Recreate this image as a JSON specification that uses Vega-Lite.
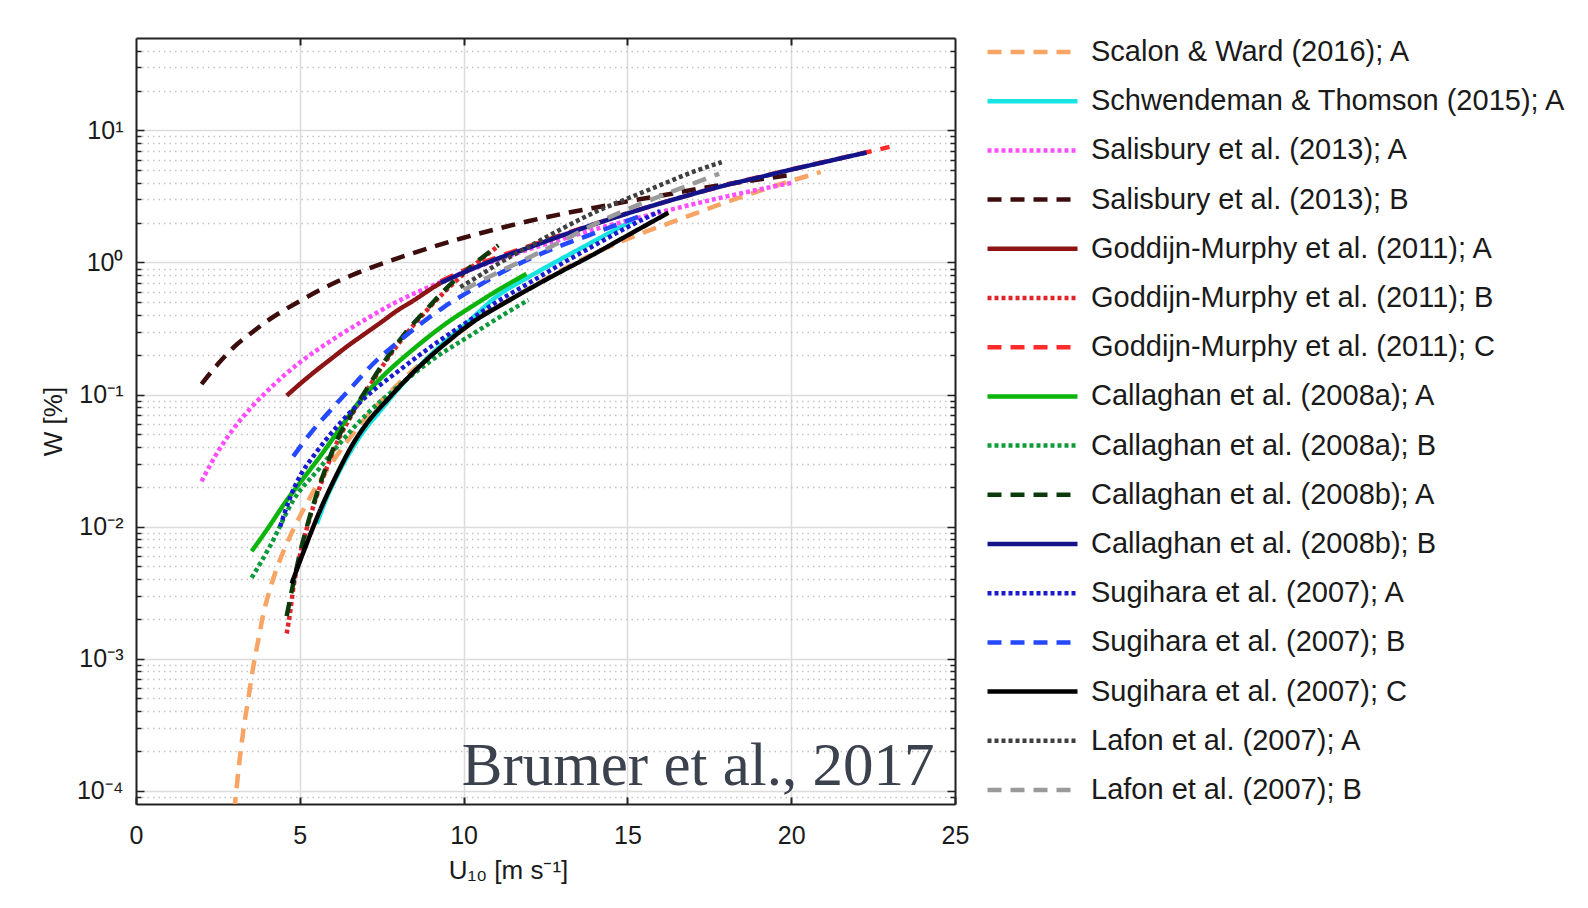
{
  "$schema": "https://vega.github.io/schema/vega-lite/v6.json",
  "autosize": {"type": "none"},
  "padding": {"left": 136, "top": 38, "right": 633, "bottom": 104},
  "width": 819,
  "height": 766,
  "background": "white",
  "config": {"view": {"stroke": null}, "font": "Liberation Sans"},
  "resolve": {"axis": {"x": "independent", "y": "independent"}},
  "layer": [
    {
      "data": {"values": [
        {"s":"Scalon & Ward (2016); A","u":3.0,"w":0.00007},
        {"s":"Scalon & Ward (2016); A","u":3.15,"w":0.00016},
        {"s":"Scalon & Ward (2016); A","u":3.28,"w":0.00029},
        {"s":"Scalon & Ward (2016); A","u":3.43,"w":0.0005},
        {"s":"Scalon & Ward (2016); A","u":3.58,"w":0.00087},
        {"s":"Scalon & Ward (2016); A","u":3.75,"w":0.00145},
        {"s":"Scalon & Ward (2016); A","u":3.89,"w":0.0022},
        {"s":"Scalon & Ward (2016); A","u":4.05,"w":0.0031},
        {"s":"Scalon & Ward (2016); A","u":4.24,"w":0.0044},
        {"s":"Scalon & Ward (2016); A","u":4.6,"w":0.0074},
        {"s":"Scalon & Ward (2016); A","u":5.1,"w":0.0133},
        {"s":"Scalon & Ward (2016); A","u":5.5,"w":0.02},
        {"s":"Scalon & Ward (2016); A","u":6,"w":0.031},
        {"s":"Scalon & Ward (2016); A","u":6.5,"w":0.046},
        {"s":"Scalon & Ward (2016); A","u":7,"w":0.066},
        {"s":"Scalon & Ward (2016); A","u":8,"w":0.12},
        {"s":"Scalon & Ward (2016); A","u":9,"w":0.2},
        {"s":"Scalon & Ward (2016); A","u":10,"w":0.31},
        {"s":"Scalon & Ward (2016); A","u":10.5,"w":0.39},
        {"s":"Scalon & Ward (2016); A","u":11.4,"w":0.52},
        {"s":"Scalon & Ward (2016); A","u":12.33,"w":0.71},
        {"s":"Scalon & Ward (2016); A","u":13.86,"w":1.13},
        {"s":"Scalon & Ward (2016); A","u":15.4,"w":1.65},
        {"s":"Scalon & Ward (2016); A","u":16.5,"w":2.08},
        {"s":"Scalon & Ward (2016); A","u":18,"w":2.85},
        {"s":"Scalon & Ward (2016); A","u":19.5,"w":3.8},
        {"s":"Scalon & Ward (2016); A","u":20.9,"w":4.84},

        {"s":"Schwendeman & Thomson (2015); A","u":5.52,"w":0.0105},
        {"s":"Schwendeman & Thomson (2015); A","u":5.8,"w":0.016},
        {"s":"Schwendeman & Thomson (2015); A","u":6.2,"w":0.026},
        {"s":"Schwendeman & Thomson (2015); A","u":6.6,"w":0.039},
        {"s":"Schwendeman & Thomson (2015); A","u":7,"w":0.055},
        {"s":"Schwendeman & Thomson (2015); A","u":7.45,"w":0.075},
        {"s":"Schwendeman & Thomson (2015); A","u":8,"w":0.11},
        {"s":"Schwendeman & Thomson (2015); A","u":8.5,"w":0.15},
        {"s":"Schwendeman & Thomson (2015); A","u":9,"w":0.2},
        {"s":"Schwendeman & Thomson (2015); A","u":9.5,"w":0.26},
        {"s":"Schwendeman & Thomson (2015); A","u":10,"w":0.33},
        {"s":"Schwendeman & Thomson (2015); A","u":11,"w":0.55},
        {"s":"Schwendeman & Thomson (2015); A","u":12,"w":0.78},
        {"s":"Schwendeman & Thomson (2015); A","u":13,"w":1.07},
        {"s":"Schwendeman & Thomson (2015); A","u":14.2,"w":1.55},
        {"s":"Schwendeman & Thomson (2015); A","u":15.2,"w":2.1},

        {"s":"Salisbury et al. (2013); A","u":2,"w":0.022},
        {"s":"Salisbury et al. (2013); A","u":2.5,"w":0.037},
        {"s":"Salisbury et al. (2013); A","u":3,"w":0.056},
        {"s":"Salisbury et al. (2013); A","u":3.5,"w":0.079},
        {"s":"Salisbury et al. (2013); A","u":4,"w":0.106},
        {"s":"Salisbury et al. (2013); A","u":5,"w":0.175},
        {"s":"Salisbury et al. (2013); A","u":6,"w":0.26},
        {"s":"Salisbury et al. (2013); A","u":7,"w":0.37},
        {"s":"Salisbury et al. (2013); A","u":8,"w":0.51},
        {"s":"Salisbury et al. (2013); A","u":9,"w":0.66},
        {"s":"Salisbury et al. (2013); A","u":10,"w":0.84},
        {"s":"Salisbury et al. (2013); A","u":11,"w":1.04},
        {"s":"Salisbury et al. (2013); A","u":12,"w":1.26},
        {"s":"Salisbury et al. (2013); A","u":13,"w":1.5},
        {"s":"Salisbury et al. (2013); A","u":14,"w":1.78},
        {"s":"Salisbury et al. (2013); A","u":15,"w":2.07},
        {"s":"Salisbury et al. (2013); A","u":16,"w":2.4},
        {"s":"Salisbury et al. (2013); A","u":17,"w":2.76},
        {"s":"Salisbury et al. (2013); A","u":18,"w":3.15},
        {"s":"Salisbury et al. (2013); A","u":19,"w":3.56},
        {"s":"Salisbury et al. (2013); A","u":20,"w":4.0},

        {"s":"Salisbury et al. (2013); B","u":2,"w":0.12},
        {"s":"Salisbury et al. (2013); B","u":2.5,"w":0.17},
        {"s":"Salisbury et al. (2013); B","u":3,"w":0.23},
        {"s":"Salisbury et al. (2013); B","u":3.5,"w":0.29},
        {"s":"Salisbury et al. (2013); B","u":4,"w":0.36},
        {"s":"Salisbury et al. (2013); B","u":5,"w":0.51},
        {"s":"Salisbury et al. (2013); B","u":6,"w":0.69},
        {"s":"Salisbury et al. (2013); B","u":7,"w":0.88},
        {"s":"Salisbury et al. (2013); B","u":8,"w":1.08},
        {"s":"Salisbury et al. (2013); B","u":9,"w":1.3},
        {"s":"Salisbury et al. (2013); B","u":10,"w":1.54},
        {"s":"Salisbury et al. (2013); B","u":11,"w":1.79},
        {"s":"Salisbury et al. (2013); B","u":12,"w":2.06},
        {"s":"Salisbury et al. (2013); B","u":13,"w":2.33},
        {"s":"Salisbury et al. (2013); B","u":14,"w":2.6},
        {"s":"Salisbury et al. (2013); B","u":15,"w":2.9},
        {"s":"Salisbury et al. (2013); B","u":16,"w":3.2},
        {"s":"Salisbury et al. (2013); B","u":17,"w":3.55},
        {"s":"Salisbury et al. (2013); B","u":18,"w":3.9},
        {"s":"Salisbury et al. (2013); B","u":19,"w":4.25},
        {"s":"Salisbury et al. (2013); B","u":20,"w":4.6},

        {"s":"Goddijn-Murphy et al. (2011); A","u":4.6,"w":0.098},
        {"s":"Goddijn-Murphy et al. (2011); A","u":5,"w":0.12},
        {"s":"Goddijn-Murphy et al. (2011); A","u":5.5,"w":0.152},
        {"s":"Goddijn-Murphy et al. (2011); A","u":6,"w":0.19},
        {"s":"Goddijn-Murphy et al. (2011); A","u":6.43,"w":0.23},
        {"s":"Goddijn-Murphy et al. (2011); A","u":7,"w":0.29},
        {"s":"Goddijn-Murphy et al. (2011); A","u":7.5,"w":0.355},
        {"s":"Goddijn-Murphy et al. (2011); A","u":7.96,"w":0.43},
        {"s":"Goddijn-Murphy et al. (2011); A","u":8.5,"w":0.52},
        {"s":"Goddijn-Murphy et al. (2011); A","u":9,"w":0.63},
        {"s":"Goddijn-Murphy et al. (2011); A","u":9.3,"w":0.7},

        {"s":"Goddijn-Murphy et al. (2011); B","u":4.6,"w":0.00155},
        {"s":"Goddijn-Murphy et al. (2011); B","u":4.7,"w":0.0022},
        {"s":"Goddijn-Murphy et al. (2011); B","u":4.8,"w":0.0034},
        {"s":"Goddijn-Murphy et al. (2011); B","u":5,"w":0.006},
        {"s":"Goddijn-Murphy et al. (2011); B","u":5.3,"w":0.0115},
        {"s":"Goddijn-Murphy et al. (2011); B","u":5.7,"w":0.023},
        {"s":"Goddijn-Murphy et al. (2011); B","u":6.13,"w":0.043},
        {"s":"Goddijn-Murphy et al. (2011); B","u":6.6,"w":0.071},
        {"s":"Goddijn-Murphy et al. (2011); B","u":7.04,"w":0.107},
        {"s":"Goddijn-Murphy et al. (2011); B","u":7.6,"w":0.175},
        {"s":"Goddijn-Murphy et al. (2011); B","u":8.26,"w":0.29},
        {"s":"Goddijn-Murphy et al. (2011); B","u":8.9,"w":0.44},
        {"s":"Goddijn-Murphy et al. (2011); B","u":9.48,"w":0.62},
        {"s":"Goddijn-Murphy et al. (2011); B","u":10.2,"w":0.9},
        {"s":"Goddijn-Murphy et al. (2011); B","u":11,"w":1.3},

        {"s":"Goddijn-Murphy et al. (2011); C","u":9.3,"w":0.72},
        {"s":"Goddijn-Murphy et al. (2011); C","u":10,"w":0.87},
        {"s":"Goddijn-Murphy et al. (2011); C","u":11,"w":1.09},
        {"s":"Goddijn-Murphy et al. (2011); C","u":12,"w":1.33},
        {"s":"Goddijn-Murphy et al. (2011); C","u":13,"w":1.62},
        {"s":"Goddijn-Murphy et al. (2011); C","u":14,"w":1.96},
        {"s":"Goddijn-Murphy et al. (2011); C","u":15,"w":2.36},
        {"s":"Goddijn-Murphy et al. (2011); C","u":16,"w":2.8},
        {"s":"Goddijn-Murphy et al. (2011); C","u":17,"w":3.3},
        {"s":"Goddijn-Murphy et al. (2011); C","u":18,"w":3.85},
        {"s":"Goddijn-Murphy et al. (2011); C","u":19,"w":4.42},
        {"s":"Goddijn-Murphy et al. (2011); C","u":20,"w":5.06},
        {"s":"Goddijn-Murphy et al. (2011); C","u":21,"w":5.77},
        {"s":"Goddijn-Murphy et al. (2011); C","u":22,"w":6.56},
        {"s":"Goddijn-Murphy et al. (2011); C","u":23,"w":7.5},

        {"s":"Callaghan et al. (2008a); A","u":3.53,"w":0.0065},
        {"s":"Callaghan et al. (2008a); A","u":4,"w":0.0095},
        {"s":"Callaghan et al. (2008a); A","u":4.6,"w":0.0158},
        {"s":"Callaghan et al. (2008a); A","u":5.1,"w":0.023},
        {"s":"Callaghan et al. (2008a); A","u":5.62,"w":0.034},
        {"s":"Callaghan et al. (2008a); A","u":6.2,"w":0.054},
        {"s":"Callaghan et al. (2008a); A","u":6.84,"w":0.09},
        {"s":"Callaghan et al. (2008a); A","u":7.5,"w":0.135},
        {"s":"Callaghan et al. (2008a); A","u":8.46,"w":0.22},
        {"s":"Callaghan et al. (2008a); A","u":9.5,"w":0.35},
        {"s":"Callaghan et al. (2008a); A","u":10.4,"w":0.49},
        {"s":"Callaghan et al. (2008a); A","u":11.2,"w":0.65},
        {"s":"Callaghan et al. (2008a); A","u":11.92,"w":0.82},

        {"s":"Callaghan et al. (2008a); B","u":3.53,"w":0.0041},
        {"s":"Callaghan et al. (2008a); B","u":4.09,"w":0.0071},
        {"s":"Callaghan et al. (2008a); B","u":4.8,"w":0.0158},
        {"s":"Callaghan et al. (2008a); B","u":5.62,"w":0.028},
        {"s":"Callaghan et al. (2008a); B","u":6.3,"w":0.045},
        {"s":"Callaghan et al. (2008a); B","u":7.04,"w":0.071},
        {"s":"Callaghan et al. (2008a); B","u":7.96,"w":0.113},
        {"s":"Callaghan et al. (2008a); B","u":9,"w":0.18},
        {"s":"Callaghan et al. (2008a); B","u":10.4,"w":0.3},
        {"s":"Callaghan et al. (2008a); B","u":11.2,"w":0.4},
        {"s":"Callaghan et al. (2008a); B","u":11.98,"w":0.52},

        {"s":"Callaghan et al. (2008b); A","u":4.6,"w":0.0021},
        {"s":"Callaghan et al. (2008b); A","u":4.8,"w":0.0037},
        {"s":"Callaghan et al. (2008b); A","u":5,"w":0.0062},
        {"s":"Callaghan et al. (2008b); A","u":5.3,"w":0.0118},
        {"s":"Callaghan et al. (2008b); A","u":5.7,"w":0.024},
        {"s":"Callaghan et al. (2008b); A","u":6.13,"w":0.045},
        {"s":"Callaghan et al. (2008b); A","u":6.6,"w":0.073},
        {"s":"Callaghan et al. (2008b); A","u":7.04,"w":0.11},
        {"s":"Callaghan et al. (2008b); A","u":7.6,"w":0.18},
        {"s":"Callaghan et al. (2008b); A","u":8.26,"w":0.3},
        {"s":"Callaghan et al. (2008b); A","u":8.9,"w":0.45},
        {"s":"Callaghan et al. (2008b); A","u":9.48,"w":0.64},
        {"s":"Callaghan et al. (2008b); A","u":10.2,"w":0.92},
        {"s":"Callaghan et al. (2008b); A","u":11.06,"w":1.35},

        {"s":"Callaghan et al. (2008b); B","u":9.3,"w":0.7},
        {"s":"Callaghan et al. (2008b); B","u":10,"w":0.84},
        {"s":"Callaghan et al. (2008b); B","u":11,"w":1.06},
        {"s":"Callaghan et al. (2008b); B","u":12,"w":1.3},
        {"s":"Callaghan et al. (2008b); B","u":13,"w":1.6},
        {"s":"Callaghan et al. (2008b); B","u":14,"w":1.95},
        {"s":"Callaghan et al. (2008b); B","u":15,"w":2.35},
        {"s":"Callaghan et al. (2008b); B","u":16,"w":2.8},
        {"s":"Callaghan et al. (2008b); B","u":17,"w":3.3},
        {"s":"Callaghan et al. (2008b); B","u":18,"w":3.85},
        {"s":"Callaghan et al. (2008b); B","u":19,"w":4.4},
        {"s":"Callaghan et al. (2008b); B","u":20,"w":5.05},
        {"s":"Callaghan et al. (2008b); B","u":21,"w":5.75},
        {"s":"Callaghan et al. (2008b); B","u":22,"w":6.55},
        {"s":"Callaghan et al. (2008b); B","u":22.3,"w":6.8},

        {"s":"Sugihara et al. (2007); A","u":4.4,"w":0.01},
        {"s":"Sugihara et al. (2007); A","u":4.7,"w":0.0165},
        {"s":"Sugihara et al. (2007); A","u":5,"w":0.024},
        {"s":"Sugihara et al. (2007); A","u":5.41,"w":0.034},
        {"s":"Sugihara et al. (2007); A","u":6.13,"w":0.057},
        {"s":"Sugihara et al. (2007); A","u":7,"w":0.095},
        {"s":"Sugihara et al. (2007); A","u":8,"w":0.15},
        {"s":"Sugihara et al. (2007); A","u":9,"w":0.23},
        {"s":"Sugihara et al. (2007); A","u":10,"w":0.34},
        {"s":"Sugihara et al. (2007); A","u":11,"w":0.5},
        {"s":"Sugihara et al. (2007); A","u":12,"w":0.7},
        {"s":"Sugihara et al. (2007); A","u":13,"w":0.98},
        {"s":"Sugihara et al. (2007); A","u":14,"w":1.35},
        {"s":"Sugihara et al. (2007); A","u":15,"w":1.85},
        {"s":"Sugihara et al. (2007); A","u":16,"w":2.45},

        {"s":"Sugihara et al. (2007); B","u":4.8,"w":0.034},
        {"s":"Sugihara et al. (2007); B","u":5.3,"w":0.05},
        {"s":"Sugihara et al. (2007); B","u":6.02,"w":0.08},
        {"s":"Sugihara et al. (2007); B","u":6.6,"w":0.115},
        {"s":"Sugihara et al. (2007); B","u":7.24,"w":0.171},
        {"s":"Sugihara et al. (2007); B","u":8,"w":0.25},
        {"s":"Sugihara et al. (2007); B","u":8.67,"w":0.34},
        {"s":"Sugihara et al. (2007); B","u":9.4,"w":0.46},
        {"s":"Sugihara et al. (2007); B","u":10.2,"w":0.61},
        {"s":"Sugihara et al. (2007); B","u":11,"w":0.8},
        {"s":"Sugihara et al. (2007); B","u":11.92,"w":1.04},
        {"s":"Sugihara et al. (2007); B","u":12.9,"w":1.32},
        {"s":"Sugihara et al. (2007); B","u":13.86,"w":1.62},
        {"s":"Sugihara et al. (2007); B","u":14.6,"w":1.9},
        {"s":"Sugihara et al. (2007); B","u":15.5,"w":2.3},

        {"s":"Sugihara et al. (2007); C","u":4.75,"w":0.0037},
        {"s":"Sugihara et al. (2007); C","u":5.1,"w":0.0063},
        {"s":"Sugihara et al. (2007); C","u":5.62,"w":0.0133},
        {"s":"Sugihara et al. (2007); C","u":6.1,"w":0.024},
        {"s":"Sugihara et al. (2007); C","u":6.63,"w":0.0426},
        {"s":"Sugihara et al. (2007); C","u":7.1,"w":0.063},
        {"s":"Sugihara et al. (2007); C","u":7.65,"w":0.09},
        {"s":"Sugihara et al. (2007); C","u":8.5,"w":0.15},
        {"s":"Sugihara et al. (2007); C","u":9.5,"w":0.25},
        {"s":"Sugihara et al. (2007); C","u":10.4,"w":0.37},
        {"s":"Sugihara et al. (2007); C","u":11.1,"w":0.47},
        {"s":"Sugihara et al. (2007); C","u":12,"w":0.63},
        {"s":"Sugihara et al. (2007); C","u":13,"w":0.86},
        {"s":"Sugihara et al. (2007); C","u":13.76,"w":1.08},
        {"s":"Sugihara et al. (2007); C","u":15,"w":1.6},
        {"s":"Sugihara et al. (2007); C","u":16.25,"w":2.38},

        {"s":"Lafon et al. (2007); A","u":9.9,"w":0.65},
        {"s":"Lafon et al. (2007); A","u":10.5,"w":0.8},
        {"s":"Lafon et al. (2007); A","u":11,"w":0.96},
        {"s":"Lafon et al. (2007); A","u":12,"w":1.32},
        {"s":"Lafon et al. (2007); A","u":13,"w":1.8},
        {"s":"Lafon et al. (2007); A","u":14,"w":2.4},
        {"s":"Lafon et al. (2007); A","u":15,"w":3.05},
        {"s":"Lafon et al. (2007); A","u":16,"w":3.85},
        {"s":"Lafon et al. (2007); A","u":17,"w":4.85},
        {"s":"Lafon et al. (2007); A","u":17.88,"w":5.75},

        {"s":"Lafon et al. (2007); B","u":10,"w":0.62},
        {"s":"Lafon et al. (2007); B","u":11,"w":0.83},
        {"s":"Lafon et al. (2007); B","u":12.03,"w":1.1},
        {"s":"Lafon et al. (2007); B","u":13,"w":1.45},
        {"s":"Lafon et al. (2007); B","u":14,"w":1.95},
        {"s":"Lafon et al. (2007); B","u":15.2,"w":2.65},
        {"s":"Lafon et al. (2007); B","u":16.5,"w":3.55},
        {"s":"Lafon et al. (2007); B","u":17.8,"w":4.7}
      ]},
      "mark": {"type": "line", "strokeWidth": 4.5, "clip": true, "strokeCap": "butt", "interpolate": "monotone"},
      "encoding": {
        "x": {"field": "u", "type": "quantitative",
          "scale": {"domain": [0, 25], "nice": false, "zero": false},
          "axis": {"orient": "bottom", "values": [0, 5, 10, 15, 20, 25], "title": "U₁₀ [m s⁻¹]",
            "titleFont": "Liberation Sans", "titleFontSize": 26, "titleFontWeight": "normal", "titleColor": "#1a1a1a",
            "titleX": 372, "titlePadding": 9,
            "labelFont": "Liberation Sans", "labelFontSize": 25, "labelColor": "#1a1a1a", "labelPadding": 26, "labelFlush": false,
            "tickSize": -7, "tickWidth": 2, "tickColor": "#222",
            "domainColor": "#222", "domainWidth": 2,
            "grid": true, "gridColor": "#dcdcdc", "gridWidth": 1.5}},
        "y": {"field": "w", "type": "quantitative",
          "scale": {"type": "log", "domain": [0.0000793, 50.1], "nice": false},
          "axis": {"orient": "left", "title": "W [%]",
            "values": [0.00009, 0.0001, 0.0002, 0.0003, 0.0004, 0.0005, 0.0006, 0.0007, 0.0008, 0.0009, 0.001, 0.002, 0.003, 0.004, 0.005, 0.006, 0.007, 0.008, 0.009, 0.01, 0.02, 0.03, 0.04, 0.05, 0.06, 0.07, 0.08, 0.09, 0.1, 0.2, 0.3, 0.4, 0.5, 0.6, 0.7, 0.8, 0.9, 1, 2, 3, 4, 5, 6, 7, 8, 9, 10, 20, 30, 40],
            "labelExpr": "abs(log(datum.value)/LN10 - round(log(datum.value)/LN10)) > 0.001 ? '' : (round(log(datum.value)/LN10) == 1 ? '10¹' : round(log(datum.value)/LN10) == 0 ? '10⁰' : round(log(datum.value)/LN10) == -1 ? '10⁻¹' : round(log(datum.value)/LN10) == -2 ? '10⁻²' : round(log(datum.value)/LN10) == -3 ? '10⁻³' : '10⁻⁴')",
            "labelFont": "Liberation Sans", "labelFontSize": 25, "labelColor": "#1a1a1a", "labelPadding": 21, "labelFlush": false,
            "titleFont": "Liberation Sans", "titleFontSize": 26, "titleFontWeight": "normal", "titleColor": "#1a1a1a", "titlePadding": 10,
            "tickSize": {"condition": {"test": "abs(log(datum.value)/LN10 - round(log(datum.value)/LN10)) < 0.001", "value": -8}, "value": -5},
            "tickWidth": 1.5, "tickColor": "#222",
            "domainColor": "#222", "domainWidth": 2,
            "grid": true,
            "gridColor": {"condition": {"test": "abs(log(datum.value)/LN10 - round(log(datum.value)/LN10)) < 0.001", "value": "#dcdcdc"}, "value": "#c4c4c4"},
            "gridDash": {"condition": {"test": "abs(log(datum.value)/LN10 - round(log(datum.value)/LN10)) < 0.001", "value": []}, "value": [1.5, 4]},
            "gridWidth": {"condition": {"test": "abs(log(datum.value)/LN10 - round(log(datum.value)/LN10)) < 0.001", "value": 1.5}, "value": 1.3}}},
        "color": {"field": "s", "type": "nominal",
          "scale": {
            "domain": ["Scalon & Ward (2016); A", "Schwendeman & Thomson (2015); A", "Salisbury et al. (2013); A", "Salisbury et al. (2013); B", "Goddijn-Murphy et al. (2011); A", "Goddijn-Murphy et al. (2011); B", "Goddijn-Murphy et al. (2011); C", "Callaghan et al. (2008a); A", "Callaghan et al. (2008a); B", "Callaghan et al. (2008b); A", "Callaghan et al. (2008b); B", "Sugihara et al. (2007); A", "Sugihara et al. (2007); B", "Sugihara et al. (2007); C", "Lafon et al. (2007); A", "Lafon et al. (2007); B"],
            "range": ["#f7a464", "#18e3e3", "#ff4dff", "#3d0c0c", "#8c1414", "#e0242c", "#ff2a2a", "#0cb40c", "#0e9a3a", "#0b3b0b", "#14148a", "#1a1ad0", "#2449ff", "#000000", "#3f3f3f", "#9a9a9a"]},
          "legend": {"title": null, "orient": "right", "offset": 29, "padding": 0,
            "symbolType": "stroke", "symbolSize": 8100, "symbolStrokeWidth": 4.5,
            "labelFont": "Liberation Sans", "labelFontSize": 29, "labelColor": "#1a1a1a", "labelLimit": 700,
            "labelOffset": 11, "clipHeight": 28, "rowPadding": 20.2}},
        "strokeDash": {"field": "s", "type": "nominal",
          "scale": {
            "domain": ["Scalon & Ward (2016); A", "Schwendeman & Thomson (2015); A", "Salisbury et al. (2013); A", "Salisbury et al. (2013); B", "Goddijn-Murphy et al. (2011); A", "Goddijn-Murphy et al. (2011); B", "Goddijn-Murphy et al. (2011); C", "Callaghan et al. (2008a); A", "Callaghan et al. (2008a); B", "Callaghan et al. (2008b); A", "Callaghan et al. (2008b); B", "Sugihara et al. (2007); A", "Sugihara et al. (2007); B", "Sugihara et al. (2007); C", "Lafon et al. (2007); A", "Lafon et al. (2007); B"],
            "range": [[14, 9], [1, 0], [4, 3], [14, 9], [1, 0], [4, 3], [14, 9], [1, 0], [4, 3], [14, 9], [1, 0], [4, 3], [14, 9], [1, 0], [4, 3], [14, 9]]}}
      }
    },
    {
      "data": {"values": [{"label": "Brumer et al., 2017", "u": 17.16, "w": 0.0001104}]},
      "mark": {"type": "text", "font": "Liberation Serif", "fontSize": 61, "color": "#3b414d", "align": "center", "baseline": "alphabetic"},
      "encoding": {
        "text": {"field": "label"},
        "x": {"field": "u", "type": "quantitative",
          "axis": {"orient": "top", "values": [5, 10, 15, 20], "labels": false, "title": null, "grid": false,
            "tickSize": -7, "tickWidth": 2, "tickColor": "#222", "domainColor": "#222", "domainWidth": 2}},
        "y": {"field": "w", "type": "quantitative",
          "axis": {"orient": "right", "labels": false, "title": null, "grid": false,
            "values": [0.00009, 0.0001, 0.0002, 0.0003, 0.0004, 0.0005, 0.0006, 0.0007, 0.0008, 0.0009, 0.001, 0.002, 0.003, 0.004, 0.005, 0.006, 0.007, 0.008, 0.009, 0.01, 0.02, 0.03, 0.04, 0.05, 0.06, 0.07, 0.08, 0.09, 0.1, 0.2, 0.3, 0.4, 0.5, 0.6, 0.7, 0.8, 0.9, 1, 2, 3, 4, 5, 6, 7, 8, 9, 10, 20, 30, 40],
            "tickSize": {"condition": {"test": "abs(log(datum.value)/LN10 - round(log(datum.value)/LN10)) < 0.001", "value": -8}, "value": -5},
            "tickWidth": 1.5, "tickColor": "#222", "domainColor": "#222", "domainWidth": 2}}
      }
    }
  ]
}
